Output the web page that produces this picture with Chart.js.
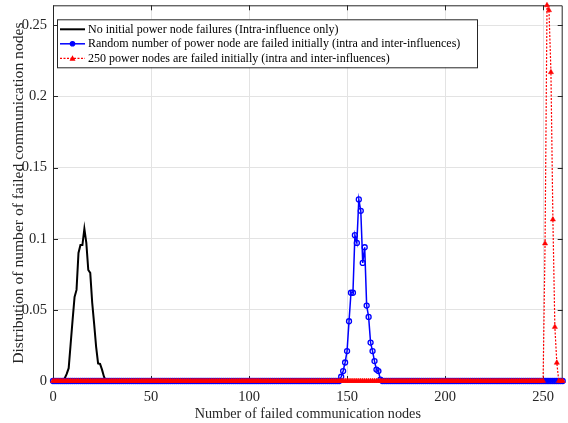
<!DOCTYPE html>
<html>
<head>
<meta charset="utf-8">
<script src="https://cdn.jsdelivr.net/npm/chart.js@4/dist/chart.umd.min.js"></script>
<style>
  html, body { margin: 0; padding: 0; background: #fff; }
  canvas { display: block; }
</style>
</head>
<body>
<canvas id="myChart" width="568" height="423"></canvas>
<script>
(function () {
    "use strict";

    // axis ranges and tick labels
    const xMax = 260;
    const yMax = 0.264;
    const xTicks = [0, 50, 100, 150, 200, 250];
    const yTicks = [0, 0.05, 0.1, 0.15, 0.2, 0.25];

    const seriesLabels = [
        'No initial power node failures (Intra-influence only)',
        'Random number of power node are failed initially (intra and inter-influences)',
        '250 power nodes are failed initially (intra and inter-influences)'
    ];

    // non-zero stretch of each distribution (all other counts are 0)
    const intraStart = 5;
    const intraValues = [0, 0.002, 0.005, 0.009, 0.026, 0.043, 0.059, 0.064, 0.090, 0.0955,
        0.0955, 0.107, 0.097, 0.078, 0.076, 0.055, 0.040, 0.024, 0.0124, 0.012, 0.008, 0.003, 0];

    const randomStart = 146;
    const randomValues = [0, 0.003, 0.007, 0.013, 0.021, 0.042, 0.062, 0.062, 0.1025, 0.097,
        0.1276, 0.1196, 0.083, 0.094, 0.053, 0.045, 0.027, 0.021, 0.014, 0.008, 0.007, 0.001, 0];

    const fixedStart = 250;
    const fixedValues = [0, 0.0966, 0.264, 0.2605, 0.217, 0.1135, 0.038, 0.0128, 0];

    function buildSeries(start, values) {
        var points = [];
        for (var x = 0; x <= xMax; x++) {
            var i = x - start;
            points.push({ x: x, y: (i >= 0 && i < values.length) ? values[i] : 0 });
        }
        return points;
    }

    const axisColor = '#262626';
    const gridColor = '#e3e3e3';
    const serif = 'Liberation Serif, Times New Roman, serif';

    // box, inward tick marks and legend, like the original figure
    const framePlugin = {
        id: 'frame',
        beforeDatasetsDraw(chart) {
            const ctx = chart.ctx;
            const a = chart.chartArea;
            const xs = chart.scales.x, ys = chart.scales.y;
            ctx.save();
            ctx.strokeStyle = axisColor;
            ctx.lineWidth = 1;
            ctx.beginPath();
            ctx.rect(a.left + 0.5, a.top + 0.5, a.right - a.left - 1, a.bottom - a.top - 1);
            xTicks.forEach(function (v) {
                var px = Math.round(xs.getPixelForValue(v)) + 0.5;
                ctx.moveTo(px, a.bottom); ctx.lineTo(px, a.bottom - 5);
                ctx.moveTo(px, a.top); ctx.lineTo(px, a.top + 5);
            });
            yTicks.forEach(function (v) {
                var py = Math.round(ys.getPixelForValue(v)) + 0.5;
                ctx.moveTo(a.left, py); ctx.lineTo(a.left + 5, py);
                ctx.moveTo(a.right, py); ctx.lineTo(a.right - 5, py);
            });
            ctx.stroke();
            ctx.restore();
        },
        afterDraw(chart) {
            const ctx = chart.ctx;
            const a = chart.chartArea;
            const bx = a.left + 4, by = a.top + 14, bw = 420, bh = 48;
            ctx.save();
            ctx.fillStyle = '#fff';
            ctx.fillRect(bx, by, bw, bh);
            ctx.strokeStyle = axisColor;
            ctx.lineWidth = 1;
            ctx.strokeRect(bx + 0.5, by + 0.5, bw, bh);
            ctx.font = '12px ' + serif;
            ctx.textBaseline = 'middle';
            chart.data.datasets.forEach(function (ds, i) {
                var y = by + 10 + i * 14.5;
                var x0 = bx + 3, x1 = bx + 28, xm = (x0 + x1) / 2;
                ctx.strokeStyle = ds.borderColor;
                ctx.lineWidth = ds.borderWidth;
                ctx.setLineDash(ds.borderDash || []);
                ctx.beginPath();
                ctx.moveTo(x0, y); ctx.lineTo(x1, y);
                ctx.stroke();
                ctx.setLineDash([]);
                if (ds.pointStyle === 'circle') {
                    ctx.lineWidth = 1.2;
                    ctx.fillStyle = ds.borderColor;
                    ctx.beginPath();
                    ctx.arc(xm, y, 2.2, 0, Math.PI * 2);
                    ctx.fill(); ctx.stroke();
                } else if (ds.pointStyle === 'triangle') {
                    ctx.fillStyle = ds.borderColor;
                    ctx.beginPath();
                    ctx.moveTo(xm, y - 3); ctx.lineTo(xm + 3, y + 2.5); ctx.lineTo(xm - 3, y + 2.5);
                    ctx.closePath(); ctx.fill();
                }
                ctx.fillStyle = '#000';
                ctx.fillText(ds.label, x1 + 3, y + 0.5);
            });
            ctx.restore();
        }
    };

    var ctx = document.getElementById('myChart').getContext('2d');
    var chart = new Chart(ctx, {
        type: 'line',
        data: {
            datasets: [{
                label: seriesLabels[0],
                data: buildSeries(intraStart, intraValues),
                borderColor: '#000000',
                borderWidth: 2,
                pointRadius: 0,
                order: 3
            },
            {
                label: seriesLabels[1],
                data: buildSeries(randomStart, randomValues),
                borderColor: '#0000ff',
                borderWidth: 1.5,
                pointStyle: 'circle',
                pointRadius: 2.5,
                pointBorderWidth: 1.3,
                pointBackgroundColor: 'rgba(255,255,255,0)',
                pointBorderColor: '#0000ff',
                order: 2
            },
            {
                label: seriesLabels[2],
                data: buildSeries(fixedStart, fixedValues),
                borderColor: '#ff0000',
                borderWidth: 1.2,
                borderDash: [2, 1.5],
                pointStyle: 'triangle',
                pointRadius: 3,
                pointBorderWidth: 0.5,
                pointBackgroundColor: '#ff0000',
                pointBorderColor: '#ff0000',
                order: 1
            }]
        },
        options: {
            responsive: false,
            animation: false,
            devicePixelRatio: 1,
            clip: false,
            layout: { padding: { left: 0, right: 5, top: 5, bottom: 0 } },
            elements: { line: { tension: 0 } },
            plugins: {
                legend: { display: false },
                tooltip: { enabled: false }
            },
            scales: {
                x: {
                    type: 'linear',
                    min: 0,
                    max: xMax,
                    afterBuildTicks: function (s) { s.ticks = xTicks.map(function (v) { return { value: v }; }); },
                    afterFit: function (s) { s.height = 42; s.paddingLeft = 0; s.paddingRight = 0; },
                    border: { display: false },
                    grid: { color: gridColor, drawTicks: false },
                    ticks: {
                        padding: 7,
                        maxRotation: 0,
                        color: axisColor,
                        font: { family: serif, size: 14.5 },
                        callback: function (v) { return String(v); }
                    },
                    title: {
                        display: true,
                        text: 'Number of failed communication nodes',
                        color: axisColor,
                        font: { family: serif, size: 14.2 },
                        padding: { top: 5, bottom: 0 }
                    }
                },
                y: {
                    min: 0,
                    max: yMax,
                    afterBuildTicks: function (s) { s.ticks = yTicks.map(function (v) { return { value: v }; }); },
                    afterFit: function (s) { s.width = 53; s.paddingTop = 0; s.paddingBottom = 0; },
                    border: { display: false },
                    grid: { color: gridColor, drawTicks: false },
                    ticks: {
                        padding: 6,
                        color: axisColor,
                        font: { family: serif, size: 14.5 },
                        callback: function (v) { return String(v); }
                    },
                    title: {
                        display: true,
                        text: 'Distribution of number of failed communication nodes',
                        color: axisColor,
                        font: { family: serif, size: 15.6 },
                        padding: { top: 10, bottom: 0 }
                    }
                }
            }
        },
        plugins: [framePlugin]
    });
})();
</script>
</body>
</html>
